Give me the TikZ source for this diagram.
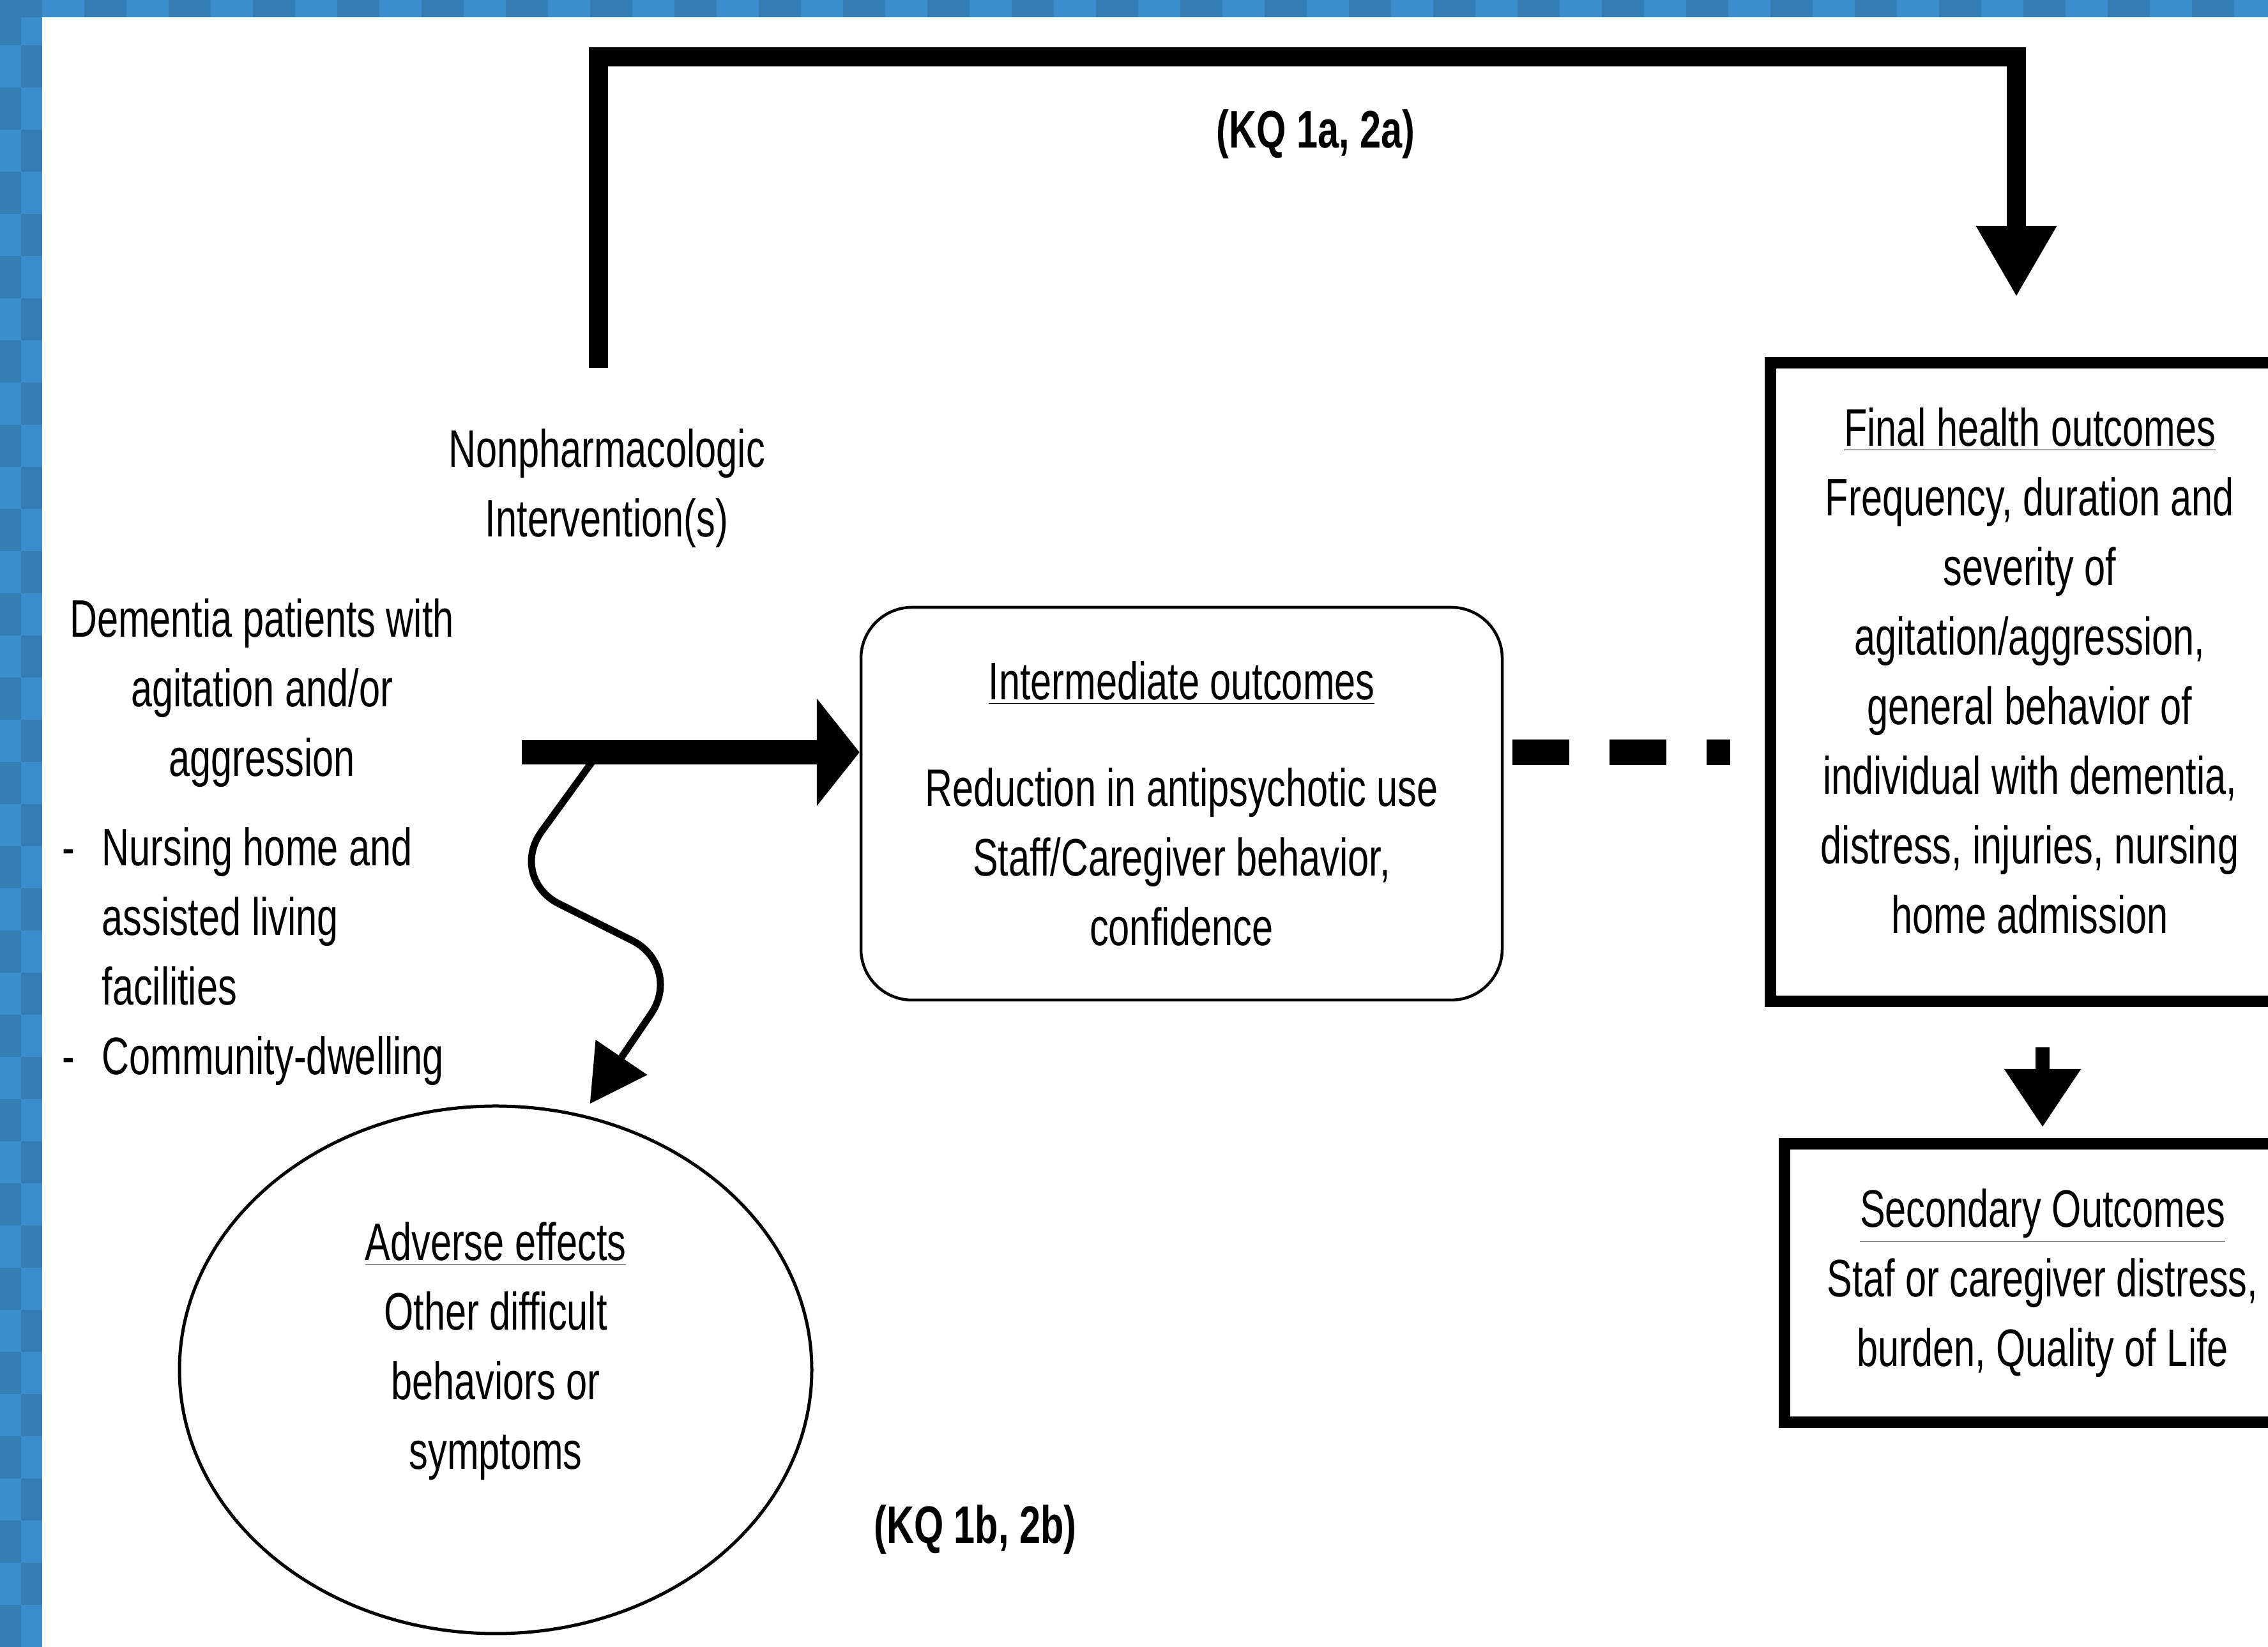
\documentclass[tikz,border=0pt]{standalone}
\usepackage{fontspec}
\newfontfamily\narrowsf[FakeStretch=0.72]{Liberation Sans}
\usetikzlibrary{arrows.meta,shapes.geometric}
\definecolor{frameblue}{RGB}{58,142,205}
\colorlet{frameshade}{frameblue!88!black}
\tikzset{
  flow/text/.style={font=\narrowsf\fontsize{23.5}{31}\selectfont, align=center, inner sep=0pt},
  flow/label/.style={flow/text, font=\narrowsf\bfseries\fontsize{23.5}{31}\selectfont},
  flow/round/.style={flow/text, draw, line width=0.045cm, rounded corners=0.8cm},
  flow/box/.style={flow/text, draw, line width=0.18cm},
  flow/oval/.style={flow/text, draw, ellipse, line width=0.05cm},
  flow/kq/.style={line width=0.3cm, -{Triangle[length=1.11cm,width=1.18cm]}},
  flow/main/.style={line width=0.38cm, -{Triangle[length=0.67cm,width=1.65cm]}},
  flow/wave/.style={line width=0.11cm, rounded corners=0.9cm, -{Triangle[length=0.88cm,width=0.95cm]}},
  flow/dashes/.style={line width=0.4cm, dash pattern=on 0.89cm off 0.63cm},
  flow/down/.style={line width=0.22cm, -{Triangle[length=0.91cm,width=1.14cm]}}
}

\begin{document}
\begin{tikzpicture}
  \useasboundingbox (0,0) rectangle (35.51,25.79);
  \clip (0,0) rectangle (35.51,25.79);
  \fill[frameblue] (0,0) rectangle (35.51,25.79);
  \foreach \r in {0,2,...,38} {
    \fill[frameshade] (0,\r*0.66) rectangle ++(0.33,0.66);
    \fill[frameshade] (0.33,\r*0.66+0.66) rectangle ++(0.33,0.66);
  }
  \foreach \c in {0,2,...,52} \fill[frameshade] (\c*0.66,25.52) rectangle ++(0.66,0.27);
  \fill[white] (0.66,0) rectangle (35.51,25.52);

  \node[flow/label] (kqa) at (20.60,23.69) {(KQ 1a, 2a)};
  \node[flow/label] (kqb) at (15.27,1.84) {(KQ 1b, 2b)};
  \node[flow/text] (interv) at (9.50,18.14) {Nonpharmacologic\\Intervention(s)};
  \node[flow/text] (patients) at (4.10,14.94) {Dementia patients with\\agitation and/or\\aggression};
  \node[flow/text, anchor=west] (settings) at (0.97,10.82) {%
    \begin{tabular}{@{}l@{\hspace{0.42cm}}l@{}}
      - & Nursing home and\\
        & assisted living\\
        & facilities\\
      - & Community-dwelling
    \end{tabular}};
  \node[flow/round, minimum width=10.04cm, minimum height=6.15cm] (inter) at (18.50,13.205)
    {\underline{Intermediate outcomes}\\[0.58cm]Reduction in antipsychotic use\\Staff/Caregiver behavior,\\confidence};
  \node[flow/box, minimum width=8.12cm, minimum height=10.0cm, text depth=0.36cm] (final) at (31.78,15.11)
    {\underline{Final health outcomes}\\Frequency, duration and\\severity of\\agitation/aggression,\\general behavior of\\individual with dementia,\\distress, injuries, nursing\\home admission};
  \node[flow/box, minimum width=8.08cm, minimum height=4.36cm] (sec) at (31.98,5.70)
    {\underline{Secondary Outcomes}\\Staf or caregiver distress,\\burden, Quality of Life};
  \node[flow/oval, minimum width=9.9cm, minimum height=8.26cm, text depth=0.75cm] (adverse) at (7.76,4.34)
    {\underline{Adverse effects}\\Other difficult\\behaviors or\\symptoms};

  \coordinate (src) at (8.17,14.01);
  \coordinate (fork) at (9.38,14.01);
  \coordinate (kqstart) at (9.37,20.03);
  \coordinate (kqtop) at (9.37,24.90);
  \coordinate (kqend) at (31.57,21.14);

  \draw[flow/kq] (kqstart) -- (kqtop) -| (kqend);
  \draw[flow/wave] (fork) -- (7.95,12.04) -- (10.70,10.66) -- ([shift={(0.03,0.19)}]adverse.70);
  \draw[flow/main] (src) -- (src -| inter.west);
  \draw[flow/dashes, shorten <=0.14cm, shorten >=0.54cm] (inter.east |- src) -- (final.west |- src);
  \draw[flow/down, shorten <=0.63cm, shorten >=0.17cm] (final.south -| sec.north) -- (sec.north);
\end{tikzpicture}
\end{document}
